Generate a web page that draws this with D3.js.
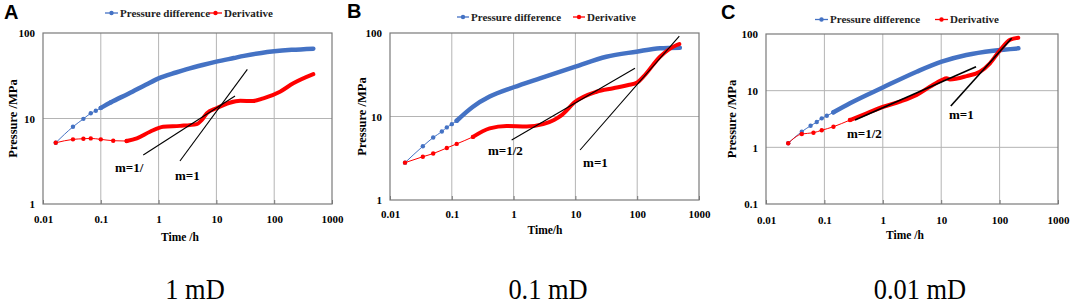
<!DOCTYPE html>
<html><head><meta charset="utf-8">
<script src="https://cdn.jsdelivr.net/npm/d3@7"></script>
<style>html,body{margin:0;padding:0;background:#fff;}svg{display:block;}</style>
</head><body>
<svg id="c" width="1072" height="305"></svg>
<script>
// ---------- DATA ----------
const xTicks = [0.01, 0.1, 1, 10, 100, 1000];
const xTickLabels = ["0.01", "0.1", "1", "10", "100", "1000"];
const yTicksAB = [1, 10, 100];
const yTickLabelsAB = ["1", "10", "100"];
const yTicksC = [0.1, 1, 10, 100];
const yTickLabelsC = ["0.1", "1", "10", "100"];
const seriesNames = ["Pressure difference", "Derivative"];
const panelLetters = ["A", "B", "C"];
const permeabilityLabels = ["1 mD", "0.1 mD", "0.01 mD"];
const xTitles = ["Time /h", "Time/h", "Time /h"];
const yTitle = "Pressure /MPa";

// Panel A (1 mD)
const tA_pres = [0.0166, 0.033, 0.05, 0.067, 0.082, 0.1, 0.15, 0.3, 0.6, 1, 2, 3, 6, 10, 20, 30, 60, 100, 200, 475];
const pA_pres = [5.2, 8.0, 9.9, 11.5, 12.3, 13.3, 15.5, 19.5, 24.8, 29.5, 34.5, 37.5, 42.5, 46.2, 51, 54, 58.5, 61, 63.5, 65.6];
const tA_der = [0.0166, 0.033, 0.05, 0.067, 0.1, 0.164, 0.28, 0.42, 0.71, 1.2, 2.34, 4.56, 5.6, 6.8, 10, 17, 26, 43, 65, 126, 214, 475];
const pA_der = [5.2, 5.7, 5.8, 5.85, 5.7, 5.5, 5.45, 5.87, 7.0, 8.0, 8.2, 8.6, 9.6, 11.5, 13.2, 15.3, 16.1, 16.0, 17.2, 20.6, 25.8, 33];
const tA_half = [0.543, 21], pA_half = [3.74, 18.3];
const tA_unit = [2.34, 34.3], pA_unit = [3.18, 37.6];
const A_labels = [{text: "m=1/", t: 0.176, p: 2.71}, {text: "m=1", t: 1.92, p: 2.18}];

// Panel B (0.1 mD)
const tB_pres = [0.0175, 0.034, 0.05, 0.069, 0.083, 0.1, 0.12, 0.22, 0.41, 1, 2.67, 10, 31.6, 97, 234, 490];
const pB_pres = [2.8, 4.4, 5.6, 6.6, 7.4, 8.1, 8.9, 13.1, 17.3, 22.4, 28.7, 39.6, 52, 59.7, 65.6, 66.7];
const tB_der = [0.0175, 0.034, 0.05, 0.083, 0.12, 0.22, 0.41, 0.77, 1.63, 3.0, 4.5, 6.0, 9.9, 22, 41, 72, 100, 126, 234, 437, 480];
const pB_der = [2.8, 3.3, 3.6, 4.2, 4.7, 5.7, 7.2, 7.7, 7.6, 8.1, 9.1, 10.4, 15, 19.8, 21.8, 23.8, 25.5, 30, 52, 71.8, 73.8];
const tB_half = [0.93, 92], pB_half = [5.23, 37.8];
const tB_unit = [11.9, 480], pB_unit = [3.97, 92];
const B_labels = [{text: "m=1/2", t: 0.385, p: 3.97}, {text: "m=1", t: 13.3, p: 2.85}];

// Panel C (0.01 mD)
const tC_pres = [0.024, 0.041, 0.058, 0.074, 0.09, 0.11, 0.143, 0.274, 1.02, 3.8, 10.2, 27, 78, 210];
const pC_pres = [1.18, 1.89, 2.4, 2.8, 3.25, 3.6, 4.15, 6.0, 11.5, 21.6, 32.5, 42.6, 50.7, 55.8];
const tC_der = [0.024, 0.041, 0.065, 0.09, 0.143, 0.274, 0.53, 1.02, 1.97, 3.8, 6.4, 10.2, 12.4, 14.1, 27.3, 46, 68.5, 102, 151, 209];
const pC_der = [1.18, 1.72, 1.81, 2.0, 2.31, 3.03, 3.98, 5.2, 6.4, 8.4, 11.7, 15.4, 16.5, 15.8, 18.1, 21.6, 30.4, 52, 79, 86];
const tC_half = [0.334, 39.5], pC_half = [3.03, 26.5];
const tC_unit = [14.6, 161], pC_unit = [5.36, 84];
const C_labels = [{text: "m=1/2", t: 0.244, p: 1.79}, {text: "m=1", t: 13.6, p: 3.73}];

// ---------- LAYOUT / STYLE ----------
const BLUE = "#4472C4", RED = "#FF0000";
const serif = "'Liberation Serif','Times New Roman',serif";
const panels = [
  {left: 43, right: 332, top: 33, bottom: 204, yDomain: [1, 100], yTicks: yTicksAB, yLabels: yTickLabelsAB,
   tp: tA_pres, pp: pA_pres, td: tA_der, pd: pA_der, half: [tA_half, pA_half], unit: [tA_unit, pA_unit], labels: A_labels,
   presDense: 0.1, derDense: 0.25, tanW: 1.1,
   letterX: 4, letterY: 19, legY: 13, legBlue: 105, legRed: 209, legLine: 13,
   yTitleX: 13, xTitleX: 180, xTitleY: 237, xLabY: 219, permX: 195},
  {left: 390, right: 699, top: 33, bottom: 200, yDomain: [1, 100], yTicks: yTicksAB, yLabels: yTickLabelsAB,
   tp: tB_pres, pp: pB_pres, td: tB_der, pd: pB_der, half: [tB_half, pB_half], unit: [tB_unit, pB_unit], labels: B_labels,
   presDense: 0.12, derDense: 0.2, tanW: 1.1,
   letterX: 347, letterY: 18, legY: 17, legBlue: 457, legRed: 573, legLine: 12,
   yTitleX: 362, xTitleX: 545, xTitleY: 230, xLabY: 214, permX: 548},
  {left: 766, right: 1058, top: 34, bottom: 204, yDomain: [0.1, 100], yTicks: yTicksC, yLabels: yTickLabelsC,
   tp: tC_pres, pp: pC_pres, td: tC_der, pd: pC_der, half: [tC_half, pC_half], unit: [tC_unit, pC_unit], labels: C_labels,
   presDense: 0.14, derDense: 0.25, tanW: 1.6,
   letterX: 721, letterY: 19, legY: 19.5, legBlue: 815, legRed: 935, legLine: 13,
   yTitleX: 732, xTitleX: 905, xTitleY: 235, xLabY: 220, permX: 920}
];

const svg = d3.select("#c");

panels.forEach((P, i) => {
  const x = d3.scaleLog().domain([0.01, 1000]).range([P.left, P.right]);
  const y = d3.scaleLog().domain(P.yDomain).range([P.bottom, P.top]);
  const g = svg.append("g");

  // gridlines
  g.append("g").selectAll("line.vg").data(xTicks.slice(1, -1)).join("line")
    .attr("x1", d => x(d)).attr("x2", d => x(d)).attr("y1", P.top).attr("y2", P.bottom)
    .attr("stroke", "#b4b4b4").attr("stroke-width", 1);
  g.append("g").selectAll("line.hg").data(P.yTicks.slice(1, -1)).join("line")
    .attr("x1", P.left).attr("x2", P.right).attr("y1", d => y(d)).attr("y2", d => y(d))
    .attr("stroke", "#b4b4b4").attr("stroke-width", 1);

  // axes via d3
  const xAxis = d3.axisBottom(x).tickValues(xTicks).tickFormat((d, k) => xTickLabels[k]).tickSize(4).tickSizeOuter(0);
  const xa = g.append("g").attr("transform", `translate(0,${P.bottom})`).call(xAxis);
  xa.select(".domain").remove();
  xa.selectAll(".tick line").attr("stroke", "#777").attr("y2", -4);
  xa.selectAll(".tick text").attr("y", P.xLabY - P.bottom).attr("dy", "0.35em")
    .attr("font-family", serif).attr("font-weight", "bold").attr("font-size", 11).attr("fill", "#000");

  const yAxis = d3.axisLeft(y).tickValues(P.yTicks).tickFormat((d, k) => P.yLabels[k]).tickSize(0);
  const ya = g.append("g").attr("transform", `translate(${P.left},0)`).call(yAxis);
  ya.select(".domain").remove();
  ya.selectAll(".tick text").attr("x", -8).attr("dy", "0.35em")
    .attr("font-family", serif).attr("font-weight", "bold").attr("font-size", 11).attr("fill", "#000");

  // border
  g.append("rect").attr("x", P.left).attr("y", P.top).attr("width", P.right - P.left).attr("height", P.bottom - P.top)
    .attr("fill", "none").attr("stroke", "#7a7a7a").attr("stroke-width", 1.2);

  const line = d3.line().x(d => x(d[0])).y(d => y(d[1])).curve(d3.curveMonotoneX);

  function drawSeries(ts, ps, color, dense, thickW) {
    const pts = ts.map((t, k) => [t, ps[k]]);
    g.append("path").attr("d", line(pts)).attr("fill", "none").attr("stroke", color).attr("stroke-width", 1);
    g.append("path").attr("d", line(pts.filter(d => d[0] >= dense))).attr("fill", "none")
      .attr("stroke", color).attr("stroke-width", thickW).attr("stroke-linecap", "round");
    g.append("g").selectAll("circle").data(pts.filter(d => d[0] < dense * 1.5)).join("circle")
      .attr("cx", d => x(d[0])).attr("cy", d => y(d[1])).attr("r", 2.2).attr("fill", color);
  }
  drawSeries(P.tp, P.pp, BLUE, P.presDense, 4.5);
  drawSeries(P.td, P.pd, RED, P.derDense, 4);

  // tangent lines
  [P.half, P.unit].forEach(L => {
    g.append("line").attr("x1", x(L[0][0])).attr("y1", y(L[1][0])).attr("x2", x(L[0][1])).attr("y2", y(L[1][1]))
      .attr("stroke", "#000").attr("stroke-width", P.tanW);
  });
  g.append("g").selectAll("text").data(P.labels).join("text")
    .attr("x", d => x(d.t)).attr("y", d => y(d.p)).attr("dy", "0.35em")
    .attr("font-family", serif).attr("font-weight", "bold").attr("font-size", 13).attr("fill", "#000")
    .text(d => d.text);

  // titles
  g.append("text").attr("x", P.xTitleX).attr("y", P.xTitleY).attr("dy", "0.35em").attr("text-anchor", "middle")
    .attr("font-family", serif).attr("font-weight", "bold").attr("font-size", 11.5).text(xTitles[i]);
  g.append("text").attr("transform", `translate(${P.yTitleX},${(P.top + P.bottom) / 2}) rotate(-90)`)
    .attr("dy", "0.35em").attr("text-anchor", "middle")
    .attr("font-family", serif).attr("font-weight", "bold").attr("font-size", 12.5).text(yTitle);

  // panel letter
  g.append("text").attr("x", P.letterX).attr("y", P.letterY)
    .attr("font-family", "'Liberation Sans',Arial,sans-serif").attr("font-weight", "bold").attr("font-size", 20).text(panelLetters[i]);

  // legend
  const lg = g.append("g").attr("font-family", serif).attr("font-weight", "bold").attr("font-size", 11).attr("fill", "#222");
  [[P.legBlue, BLUE, seriesNames[0]], [P.legRed, RED, seriesNames[1]]].forEach(([lx, col, name]) => {
    lg.append("line").attr("x1", lx).attr("x2", lx + P.legLine).attr("y1", P.legY).attr("y2", P.legY)
      .attr("stroke", col).attr("stroke-width", 1.3);
    lg.append("circle").attr("cx", lx + P.legLine / 2).attr("cy", P.legY).attr("r", 2.2).attr("fill", col);
    lg.append("text").attr("x", lx + P.legLine + 2).attr("y", P.legY).attr("dy", "0.35em").text(name);
  });

  // permeability label
  g.append("text").attr("x", P.permX).attr("y", 299).attr("text-anchor", "middle")
    .attr("font-family", serif).attr("font-size", 30).attr("fill", "#000")
    .attr("transform", `translate(${P.permX},0) scale(0.88,1) translate(${-P.permX},0)`)
    .text(permeabilityLabels[i]);
});
</script>
</body></html>
